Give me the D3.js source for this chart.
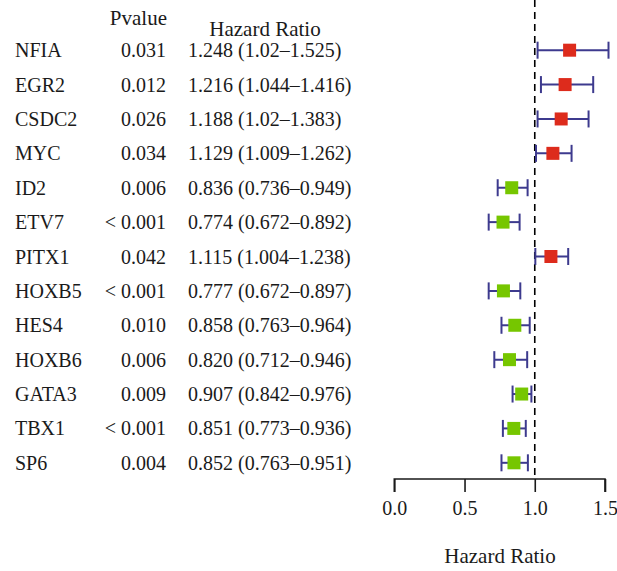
<!DOCTYPE html>
<html><head><meta charset="utf-8">
<script src="https://cdn.jsdelivr.net/npm/d3@7/dist/d3.min.js"></script>
<style>body{margin:0;background:#fff}svg{display:block}text{font-family:"Liberation Serif","DejaVu Serif",serif;fill:#1a1a1a}</style>
</head><body><div id="chart"></div>
<script>
const genes = ["NFIA","EGR2","CSDC2","MYC","ID2","ETV7","PITX1","HOXB5","HES4","HOXB6","GATA3","TBX1","SP6"];
const pvalues = ["0.031","0.012","0.026","0.034","0.006","< 0.001","0.042","< 0.001","0.010","0.006","0.009","< 0.001","0.004"];
const hr = [1.248,1.216,1.188,1.129,0.836,0.774,1.115,0.777,0.858,0.820,0.907,0.851,0.852];
const lower = [1.02,1.044,1.02,1.009,0.736,0.672,1.004,0.672,0.763,0.712,0.842,0.773,0.763];
const upper = [1.525,1.416,1.383,1.262,0.949,0.892,1.238,0.897,0.964,0.946,0.976,0.936,0.951];
const hrLabels = ["1.248 (1.02–1.525)","1.216 (1.044–1.416)","1.188 (1.02–1.383)","1.129 (1.009–1.262)","0.836 (0.736–0.949)","0.774 (0.672–0.892)","1.115 (1.004–1.238)","0.777 (0.672–0.897)","0.858 (0.763–0.964)","0.820 (0.712–0.946)","0.907 (0.842–0.976)","0.851 (0.773–0.936)","0.852 (0.763–0.951)"];
const xTicks = [0,0.5,1.0,1.5];

const W=617,H=571;
const svg=d3.select("#chart").append("svg").attr("width",W).attr("height",H);
const x=d3.scaleLinear().domain([0,1.5]).range([394.3,605]);
const y=d3.scaleBand().domain(genes).range([33,480]).paddingInner(0).paddingOuter(0);
const cy=g=>y(g)+y.bandwidth()/2;
const fs=20, hfs=21;

svg.append("text").attr("x",167).attr("y",25).attr("text-anchor","end").attr("font-size",hfs).text("Pvalue");
svg.append("text").attr("x",265).attr("y",36).attr("text-anchor","middle").attr("font-size",hfs).text("Hazard Ratio");

const rows=svg.append("g");
genes.forEach((g,i)=>{
  const by=cy(g)+7;
  rows.append("text").attr("x",15).attr("y",by).attr("font-size",fs).text(g);
  rows.append("text").attr("x",166).attr("y",by).attr("text-anchor","end").attr("font-size",fs).text(pvalues[i]);
  rows.append("text").attr("x",188).attr("y",by).attr("font-size",fs).text(hrLabels[i]);
});

// reference line
svg.append("line").attr("x1",x(1)).attr("x2",x(1)).attr("y1",0).attr("y2",479)
  .attr("stroke","#000").attr("stroke-width",1.6).attr("stroke-dasharray","7,5");

const ec="#3d3a8e";
const marks=svg.append("g");
genes.forEach((g,i)=>{
  const c=cy(g);
  marks.append("line").attr("x1",x(lower[i])).attr("x2",x(upper[i])).attr("y1",c).attr("y2",c).attr("stroke",ec).attr("stroke-width",2);
  [lower[i],upper[i]].forEach(v=>marks.append("line").attr("x1",x(v)).attr("x2",x(v)).attr("y1",c-8.5).attr("y2",c+8.5).attr("stroke",ec).attr("stroke-width",2));
  marks.append("rect").attr("x",x(hr[i])-6.5).attr("y",c-6.5).attr("width",13).attr("height",13)
    .attr("fill",hr[i]>1?"#dd2b1c":"#76c600");
});

const axis=d3.axisBottom(x).tickValues(xTicks).tickFormat(d3.format(".1f")).tickSize(13).tickPadding(9);
const ag=svg.append("g").attr("transform","translate(0,479)").call(axis);
ag.select(".domain").attr("stroke","#1a1a1a").attr("stroke-width",1.6).attr("d",`M${x(0)},13V0H${x(1.5)}V13`);
ag.selectAll(".tick line").attr("stroke","#1a1a1a").attr("stroke-width",1.6);
ag.selectAll(".tick text").attr("font-size",fs).attr("font-family",'"Liberation Serif",serif').attr("fill","#1a1a1a");
svg.append("text").attr("x",500).attr("y",563).attr("text-anchor","middle").attr("font-size",hfs).text("Hazard Ratio");
</script></body></html>
